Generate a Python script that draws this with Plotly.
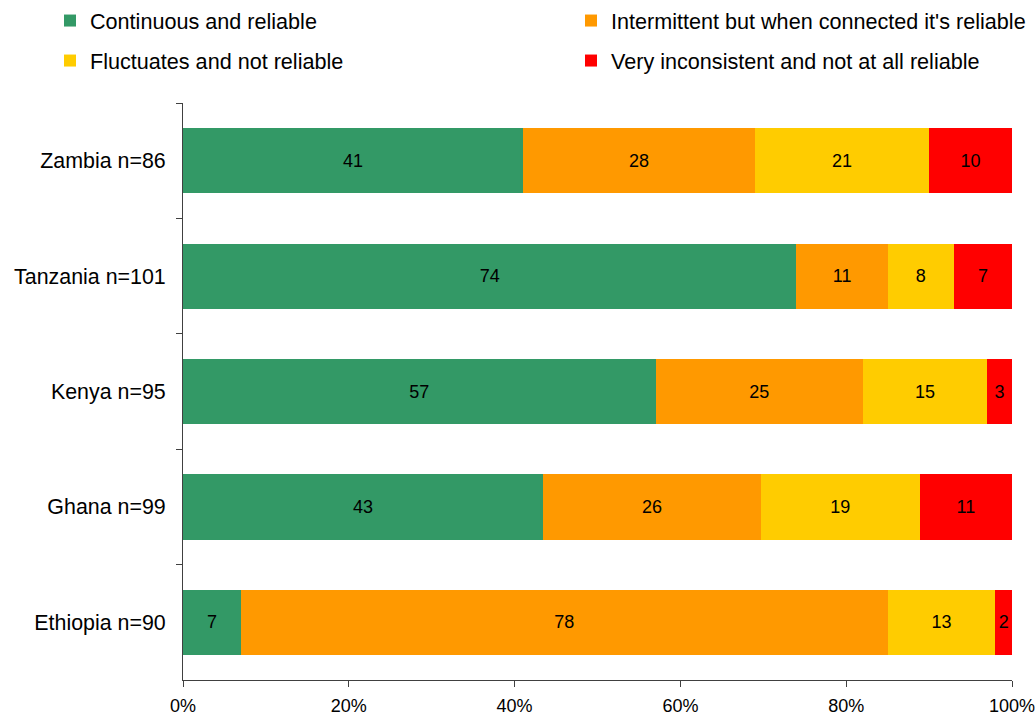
import plotly.graph_objects as go

countries = ["Zambia n=86", "Tanzania n=101", "Kenya n=95", "Ghana n=99", "Ethiopia n=90"]
series_names = [
    "Continuous and reliable",
    "Intermittent but when connected it's reliable",
    "Fluctuates and not reliable",
    "Very inconsistent and not at all reliable",
]
continuous = [41, 74, 57, 43, 7]
intermittent = [28, 11, 25, 26, 78]
fluctuates = [21, 8, 15, 19, 13]
very_inconsistent = [10, 7, 3, 11, 2]
x_ticks = [0, 20, 40, 60, 80, 100]
x_tick_labels = ["0%", "20%", "40%", "60%", "80%", "100%"]

colors = ["#339966", "#FF9900", "#FFCC00", "#FF0000"]
all_values = [continuous, intermittent, fluctuates, very_inconsistent]
legend_ids = ["legend", "legend2", "legend3", "legend4"]
# legend positions (container px): left x of item text, centre y of row
legend_pos = [(90, 21), (611, 21), (90, 61), (611, 61)]

FONT = "Liberation Sans, Arial, sans-serif"
W, H = 1036, 715

fig = go.Figure()
for name, vals, col, lg in zip(series_names, all_values, colors, legend_ids):
    fig.add_trace(go.Bar(
        y=countries, x=vals, name=name, orientation="h",
        marker=dict(color=col, line=dict(width=0)),
        text=[str(v) for v in vals], texttemplate="%{text}",
        textposition="inside", insidetextanchor="middle", textangle=0,
        constraintext="none", showlegend=True,
        textfont=dict(family=FONT, size=18, color="#000000"),
        legend=lg,
    ))

legends = {}
for lg, (tx, ty) in zip(legend_ids, legend_pos):
    legends[lg] = dict(
        orientation="v", xref="container", yref="container",
        x=(tx - 40) / W, y=1 - ty / H, xanchor="left", yanchor="middle",
        font=dict(family=FONT, size=21.6, color="#000000"),
        bgcolor="rgba(0,0,0,0)", borderwidth=0, traceorder="normal",
    )

fig.update_layout(
    width=W, height=H, showlegend=True,
    barmode="stack", barnorm="percent", bargap=0.435,
    plot_bgcolor="white", paper_bgcolor="white",
    margin=dict(l=183, r=24, t=103, b=35, autoexpand=False),
    font=dict(family=FONT, color="#000000"),
    xaxis=dict(range=[0, 100], tickmode="array", tickvals=x_ticks, ticktext=x_tick_labels,
               showgrid=False, zeroline=False,
               showline=True, linecolor="#404040", linewidth=1,
               ticks="outside", ticklen=6, tickcolor="#404040",
               ticklabelstandoff=3,
               tickfont=dict(family=FONT, size=18, color="#000000"),
               automargin=False, fixedrange=True),
    yaxis=dict(autorange="reversed", tickson="boundaries",
               showgrid=False, zeroline=False,
               showline=True, linecolor="#404040", linewidth=1,
               ticks="outside", ticklen=6, tickcolor="#404040",
               ticklabelstandoff=12,
               tickfont=dict(family=FONT, size=21.4, color="#000000"),
               automargin=False, fixedrange=True),
    **legends,
)

fig.write_html("out.html", config={"displayModeBar": False},
               post_script="document.body.style.margin='0';")
